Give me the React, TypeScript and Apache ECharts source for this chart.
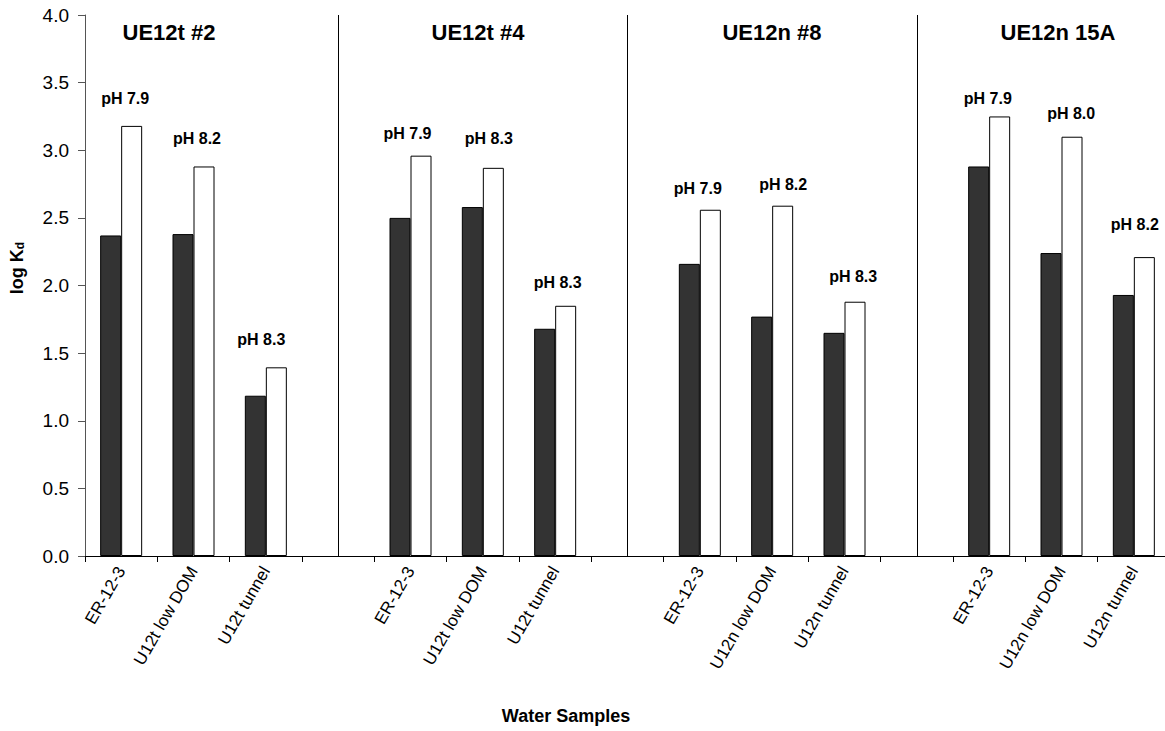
import React, { useEffect, useRef } from "react";
import * as echarts from "echarts";

// ---- data ----
const categories = [
  "ER-12-3", "U12t low DOM", "U12t tunnel", "",
  "ER-12-3", "U12t low DOM", "U12t tunnel", "",
  "ER-12-3", "U12n low DOM", "U12n tunnel", "",
  "ER-12-3", "U12n low DOM", "U12n tunnel",
];
const darkValues = [2.37, 2.38, 1.185, null, 2.5, 2.58, 1.68, null, 2.16, 1.77, 1.65, null, 2.88, 2.24, 1.93];
const whiteValues = [3.18, 2.88, 1.395, null, 2.96, 2.87, 1.85, null, 2.56, 2.59, 1.88, null, 3.25, 3.1, 2.21];
const phLabels = [
  "pH 7.9", "pH 8.2", "pH 8.3", "",
  "pH 7.9", "pH 8.3", "pH 8.3", "",
  "pH 7.9", "pH 8.2", "pH 8.3", "",
  "pH 7.9", "pH 8.0", "pH 8.2",
];
const groupTitles = ["UE12t #2", "UE12t #4", "UE12n #8", "UE12n 15A"];
const dividerIndices = [3, 7, 11];
const yTicks = { min: 0, max: 4, interval: 0.5 };

// ---- layout (label placement tweaks, not data) ----
const labelDx = [4, 3.5, -4.5, 0, -3, 6, 2.5, 0, -2, 11, 8.7, 0, -1.4, 9.7, 1];
const labelGap = [27, 27.7, 28, 0, 22, 29, 23.7, 0, 21, 21.4, 25.7, 0, 17.7, 23.4, 33];
const titleX = [169, 478, 772, 1058];

const FONT = "'Liberation Sans', Arial, Helvetica, sans-serif";

export default function App() {
  const ref = useRef<HTMLDivElement>(null);
  useEffect(() => {
    if (!ref.current) return;
    const chart = echarts.init(ref.current, null, { renderer: "svg" });

    const whiteData = whiteValues.map((v, i) =>
      v == null
        ? null
        : {
            value: v,
            label: {
              show: true,
              formatter: phLabels[i],
              offset: [labelDx[i] - 10.5, -(labelGap[i] - 8)],
            },
          }
    );

    chart.setOption({
      animation: false,
      backgroundColor: "#fff",
      textStyle: { fontFamily: FONT },
      grid: {
        left: 85,
        top: 15,
        width: 1085,
        height: 541,
        containLabel: false,
        outerBoundsMode: "none",
      },
      xAxis: {
        type: "category",
        data: categories,
        boundaryGap: true,
        axisLine: { show: true, lineStyle: { color: "#000", width: 1 } },
        axisTick: { show: true, interval: 0, length: 6, lineStyle: { color: "#000" } },
        axisLabel: {
          interval: 0,
          rotate: 60,
          fontSize: 17,
          color: "#000",
          margin: 12,
          fontFamily: FONT,
        },
        splitLine: { show: false },
      },
      yAxis: {
        type: "value",
        min: yTicks.min,
        max: yTicks.max,
        interval: yTicks.interval,
        axisLine: { show: true, lineStyle: { color: "#555", width: 1 } },
        axisTick: { show: true, inside: false, length: 7, lineStyle: { color: "#555" } },
        axisLabel: {
          fontSize: 19,
          color: "#000",
          margin: 16,
          fontFamily: FONT,
          formatter: (v: number) => v.toFixed(1),
        },
        splitLine: { show: false },
      },
      series: [
        {
          type: "bar",
          data: darkValues,
          barWidth: 21,
          barGap: "0%",
          itemStyle: { color: "#333333", borderColor: "#000", borderWidth: 1 },
        },
        {
          type: "bar",
          data: whiteData,
          barWidth: 21,
          barGap: "0%",
          itemStyle: { color: "#ffffff", borderColor: "#000", borderWidth: 1 },
          label: {
            show: true,
            position: "top",
            distance: 0,
            fontSize: 16,
            fontWeight: "bold",
            color: "#000",
            fontFamily: FONT,
          },
        },
        {
          type: "line",
          data: [],
          silent: true,
          markLine: {
            silent: true,
            symbol: "none",
            label: { show: false },
            lineStyle: { color: "#000", type: "solid", width: 1 },
            data: dividerIndices.map((i) => ({ xAxis: i })),
          },
        },
      ],
      graphic: [
        ...groupTitles.map((t, i) => ({
          type: "text",
          x: titleX[i],
          y: 32,
          style: {
            text: t,
            font: `bold 22px ${FONT}`,
            fill: "#000",
            textAlign: "center",
            textVerticalAlign: "middle",
          },
        })),
        {
          type: "text",
          x: 566,
          y: 716,
          style: {
            text: "Water Samples",
            font: `bold 18px ${FONT}`,
            fill: "#000",
            textAlign: "center",
            textVerticalAlign: "middle",
          },
        },
        {
          type: "text",
          x: 17,
          y: 268,
          rotation: Math.PI / 2,
          style: {
            text: "{a|log K}{b|d}",
            fill: "#000",
            textAlign: "center",
            textVerticalAlign: "middle",
            rich: {
              a: { fontSize: 18, fontWeight: "bold", fontFamily: FONT, fill: "#000", color: "#000" },
              b: {
                fontSize: 12,
                fontWeight: "bold",
                fontFamily: FONT,
                fill: "#000",
                color: "#000",
                verticalAlign: "bottom",
                padding: [6, 0, 0, 0],
              },
            },
          },
        },
      ],
    });
    return () => chart.dispose();
  }, []);
  return (
    <div
      ref={ref}
      style={{ position: "absolute", left: 0, top: 0, width: 1165, height: 731 }}
    />
  );
}
